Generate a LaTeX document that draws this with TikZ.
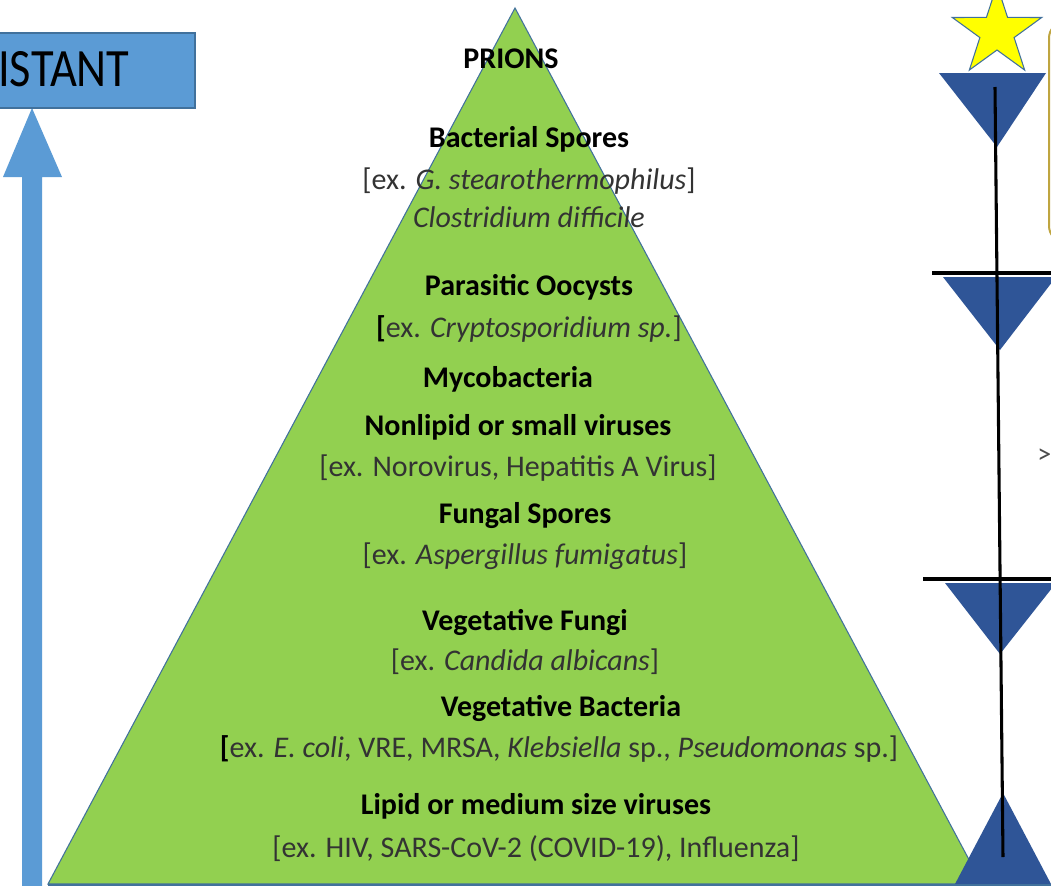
\documentclass[tikz,border=0pt]{standalone}
\usepackage{fontspec}
\setmainfont{Carlito}
\newfontfamily\narrowfont{Carlito}[FakeStretch=0.86]
\definecolor{pyrgreen}{HTML}{92D050}
\definecolor{pyredge}{HTML}{41719C}
\definecolor{boxblue}{HTML}{5B9BD5}
\definecolor{darkblue}{HTML}{2F5597}
\definecolor{staryellow}{HTML}{FFFF00}
\definecolor{calloutedge}{HTML}{BFA540}
\definecolor{lighttext}{HTML}{333333}
\tikzset{
  head/.style={anchor=base, font=\fontsize{22.5}{26}\selectfont\bfseries, text=black, inner sep=0pt},
  exline/.style={anchor=base, font=\fontsize{22.5}{26}\selectfont, text=lighttext, inner sep=0pt},
  tri/.style={fill=darkblue, draw=none},
  blackline/.style={draw=black, line width=2.3pt},
}
\begin{document}
\begin{tikzpicture}[x=0.75pt,y=-0.75pt]
\useasboundingbox (0,0) rectangle (1051,886);
\clip (0,0) rectangle (1051,886);
\fill[white] (0,0) rectangle (1051,886);

% block arrow
\fill[boxblue] (22,890) -- (22,177) -- (3,177) -- (32,108) -- (62,177) -- (42,177) -- (42,890) -- cycle;

% resistant box
\draw[fill=boxblue, draw=pyredge, line width=0.8pt] (-20,33) rectangle (195,108);
\node[anchor=base west, inner sep=0pt, font=\narrowfont\fontsize{40.5}{44}\selectfont, text=black] (resbox) at (-2,86) {ISTANT};

% pyramid
\draw[fill=pyrgreen, draw=pyredge, line width=0.8pt] (515,8) -- (982,884) -- (48,884) -- cycle;

% texts
\node[head] (prions) at (511,68) {PRIONS};
\node[head] (bspores) at (529,147) {Bacterial Spores};
\node[exline] (bsex) at (529,189) {[ex. \textit{G. stearothermophilus}]};
\node[exline] (cdiff) at (529,227) {\textit{Clostridium difficile}};
\node[head] (oocysts) at (529,295) {Parasitic Oocysts};
\node[exline] (ooex) at (529,337) {\textbf{\color{black}[}ex. \textit{Cryptosporidium sp.}]};
\node[head] (myco) at (508,387) {Mycobacteria};
\node[head] (nonlipid) at (518,435) {Nonlipid or small viruses};
\node[exline] (nlex) at (518,476) {[ex. Norovirus, Hepatitis A Virus]};
\node[head] (fspores) at (525,523) {Fungal Spores};
\node[exline] (fsex) at (525,564) {[ex. \textit{Aspergillus fumigatus}]};
\node[head] (vfungi) at (525,630) {Vegetative Fungi};
\node[exline] (vfex) at (525,670) {[ex. \textit{Candida albicans}]};
\node[head] (vbact) at (561,716) {Vegetative Bacteria};
\node[exline] (vbex) at (559,757) {\textbf{\color{black}[}ex. \textit{E. coli}, VRE, MRSA, \textit{Klebsiella} sp., \textit{Pseudomonas} sp.]};
\node[head] (lipid) at (536,814) {Lipid or medium size viruses};
\node[exline] (lpex) at (536,857) {[ex. HIV, SARS-CoV-2 (COVID-19), Influenza]};

% right side scale
\draw[draw=calloutedge, line width=1.5pt, rounded corners=12pt] (1049,22) rectangle (1120,242);
\draw[fill=staryellow, draw=pyredge, line width=0.8pt, shift={(997,32)}]
  (270:47) -- (306:18) -- (342:47) -- (18:18) -- (54:47) -- (90:18) -- (126:47) -- (162:18) -- (198:47) -- (234:18) -- cycle;
\fill[tri] (939,73) -- (1046,73) -- (997,147) -- cycle;
\fill[tri] (943,277) -- (1056,277) -- (1000,350) -- cycle;
\fill[tri] (945,583) -- (1056,583) -- (1000,654) -- cycle;
\fill[tri] (955,884) -- (1051,884) -- (1003,793) -- cycle;
\draw[pyredge, line width=1pt] (48,885) -- (1051,885);

\coordinate (ltop) at (995,87);
\coordinate (lbot) at (1003,857);
\draw[blackline] (ltop) -- (lbot);
\coordinate (h1a) at (932,273);
\coordinate (h1b) at (1060,273);
\coordinate (h2a) at (923,579);
\coordinate (h2b) at (1060,579);
\draw[blackline] (h1a) -- (h1b);
\draw[blackline] (h2a) -- (h2b);

\node[anchor=base west, inner sep=0pt, font=\fontsize{21}{24}\selectfont, text=black!70] (gt) at (1037,463) {>};
\end{tikzpicture}
\end{document}
